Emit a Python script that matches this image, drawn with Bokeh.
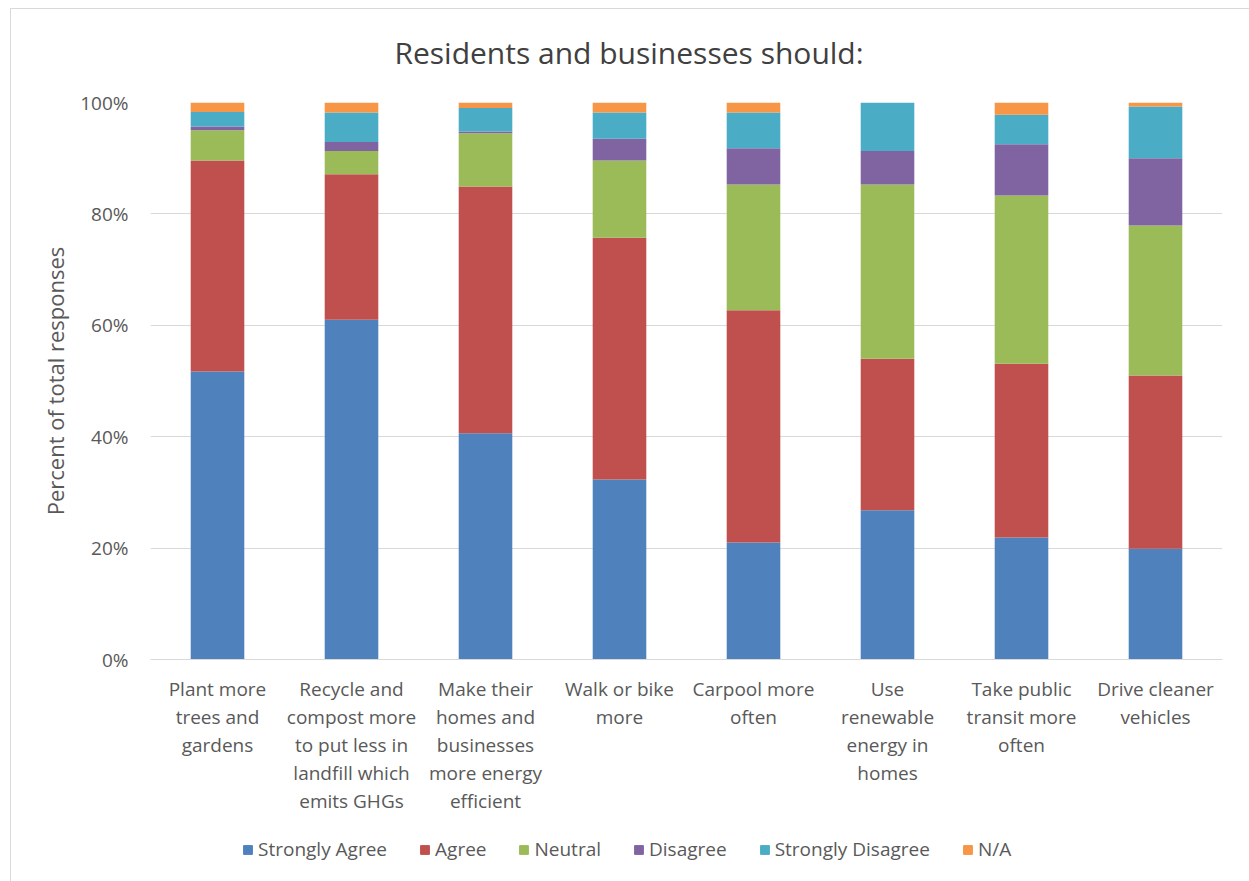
from bokeh.plotting import figure
from bokeh.layouts import column
from bokeh.core.properties import value
from bokeh.models import ColumnDataSource, Legend, LegendItem, FixedTicker, PrintfTickFormatter, Range1d
from bokeh.embed import file_html
from bokeh.resources import INLINE

# ---- data ----
title_text = "Residents and businesses should:"
categories = [
    "Plant more\ntrees and\ngardens",
    "Recycle and\ncompost more\nto put less in\nlandfill which\nemits GHGs",
    "Make their\nhomes and\nbusinesses\nmore energy\nefficient",
    "Walk or bike\nmore",
    "Carpool more\noften",
    "Use\nrenewable\nenergy in\nhomes",
    "Take public\ntransit more\noften",
    "Drive cleaner\nvehicles",
]
series_names = ["Strongly Agree", "Agree", "Neutral", "Disagree", "Strongly Disagree", "N/A"]
strongly_agree = [51.7, 61.0, 40.6, 32.3, 21.0, 26.8, 21.9, 19.9]
agree = [37.9, 26.1, 44.3, 43.4, 41.7, 27.2, 31.2, 31.1]
neutral = [5.4, 4.2, 9.6, 13.9, 22.6, 31.3, 30.2, 26.9]
disagree = [0.7, 1.6, 0.3, 3.9, 6.5, 6.0, 9.2, 12.1]
strongly_disagree = [2.6, 5.3, 4.2, 4.7, 6.4, 8.7, 5.3, 9.3]
na = [1.8, 1.8, 1.0, 1.8, 1.8, 0.0, 2.2, 0.7]
y_ticks = [0, 20, 40, 60, 80, 100]

colors = ["#4F81BD", "#C0504D", "#9BBB59", "#8064A2", "#4BACC6", "#F79646"]
keys = ["sa", "a", "n", "d", "sd", "na"]

source = ColumnDataSource(dict(cat=categories, sa=strongly_agree, a=agree, n=neutral,
                               d=disagree, sd=strongly_disagree, na=na))

FONT = "Open Sans"
GRAY = "#595959"
W = 1238
FRAME_L, FRAME_R = 150, 1222  # page pixels spanned by the aligned plot frames


def strip(height, top=0):
    f = figure(width=W, height=height, output_backend="svg", toolbar_location=None,
               x_range=Range1d(FRAME_L, FRAME_R), y_range=Range1d(0, height - top),
               x_axis_type=None, y_axis_type=None,
               min_border_left=0, min_border_right=0, min_border_top=top,
               min_border_bottom=0)
    f.outline_line_color = None
    f.xgrid.grid_line_color = None
    f.ygrid.grid_line_color = None
    return f


# title strip
tf = strip(78)
tf.text(x=[628.5], y=[35], text=[title_text], text_align="center", text_baseline="middle",
        text_font=value(FONT), text_font_size="30px", text_color="#404040")

# main chart
p = figure(x_range=categories, y_range=Range1d(0, 100), width=W, height=743,
           output_backend="svg", toolbar_location=None,
           min_border_left=139, min_border_right=27, min_border_top=15, min_border_bottom=171)

renderers = p.vbar_stack(keys, x="cat", width=0.4, color=colors, source=source, line_color=None)

p.yaxis.ticker = FixedTicker(ticks=y_ticks)
p.yaxis.formatter = PrintfTickFormatter(format="%d%%")
p.yaxis.axis_line_color = None
p.yaxis.major_tick_line_color = None
p.yaxis.minor_tick_line_color = None
p.yaxis.major_label_text_font = FONT
p.yaxis.major_label_text_font_size = "19px"
p.yaxis.major_label_text_color = GRAY
p.yaxis.major_label_standoff = 16
p.yaxis.axis_label = "Percent of total responses"
p.yaxis.axis_label_text_font = FONT
p.yaxis.axis_label_text_font_size = "22px"
p.yaxis.axis_label_text_font_style = "normal"
p.yaxis.axis_label_text_color = GRAY
p.yaxis.axis_label_standoff = 7

p.xaxis.axis_line_color = "#d9d9d9"
p.xaxis.major_tick_line_color = None
p.xaxis.minor_tick_line_color = None
p.xaxis.major_label_text_font = FONT
p.xaxis.major_label_text_font_size = "19px"
p.xaxis.major_label_text_color = GRAY
p.xaxis.major_label_text_line_height = 1.08
p.xaxis.major_label_standoff = 10

p.xgrid.grid_line_color = None
p.ygrid.grid_line_color = "#d9d9d9"
p.ygrid.ticker = FixedTicker(ticks=y_ticks)
p.outline_line_color = None

# legend strip below the chart (dummy swatches kept outside the visible range)
lf = strip(51, top=6)
dummy = ColumnDataSource(dict(x=[-500.0], top=[-500.0]))
swatches = [lf.vbar(x="x", top="top", width=1, color=c, source=dummy) for c in colors]
items = [LegendItem(label=name, renderers=[r]) for name, r in zip(series_names, swatches)]
legend = Legend(items=items, orientation="horizontal", location=(92, 19), margin=0, padding=6,
                label_text_font=FONT, label_text_font_size="19px", label_text_color=GRAY,
                glyph_width=11, glyph_height=11, label_standoff=5, spacing=32,
                border_line_color=None, background_fill_alpha=0)
lf.add_layout(legend, "center")

layout = column(tf, p, lf, spacing=0, margin=(8, 0, 0, 10),
                styles={"border-left": "1px solid #d9d9d9", "border-top": "1px solid #d9d9d9"})

open("out.html", "w").write(file_html(layout, INLINE))
